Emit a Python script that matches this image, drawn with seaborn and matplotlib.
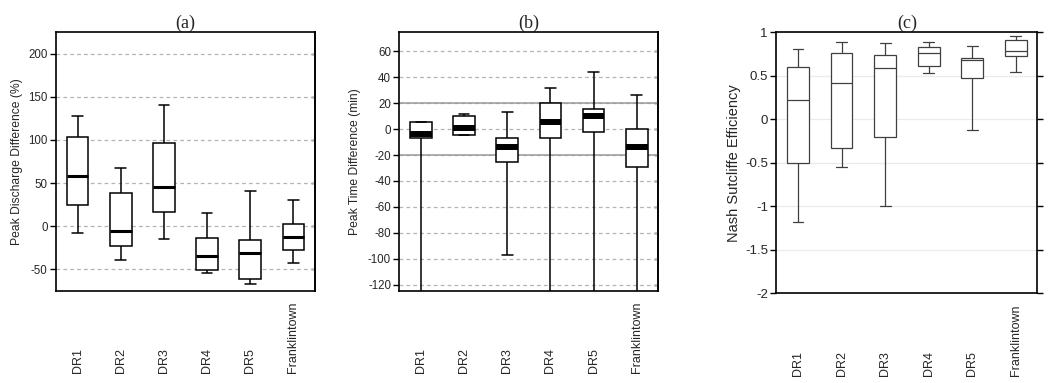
import matplotlib
matplotlib.use("Agg")
import matplotlib.pyplot as plt
import numpy as np
import pandas as pd
import seaborn as sns
from matplotlib.ticker import FuncFormatter

categories = ["DR1", "DR2", "DR3", "DR4", "DR5", "Franklintown"]

# (a) peak discharge difference (%)
discharge_min = [-8, -39, -15, -54, -67, -42]
discharge_q1 = [25, -23, 16.5, -51, -61, -27.5]
discharge_med = [58.5, -6, 45, -34, -31, -13]
discharge_q3 = [103, 39, 97, -14, -16, 3]
discharge_max = [128, 68, 140, 15, 41, 30]

# (b) peak time difference (min); lower whiskers run off the axis
time_min = [-150, -4.5, -97.5, -150, -150, -150]
time_q1 = [-6.5, -4.5, -25, -6.7, -2.3, -29]
time_med = [-4, 0.5, -14, 5.6, 10.5, -14]
time_q3 = [5.4, 10, -7, 20, 15.4, 0]
time_max = [5.4, 12, 13, 32, 44, 26.7]

# (c) Nash Sutcliffe efficiency
nse_min = [-1.18, -0.55, -1.0, 0.53, -0.12, 0.545]
nse_q1 = [-0.50, -0.33, -0.21, 0.61, 0.47, 0.72]
nse_med = [0.22, 0.42, 0.59, 0.755, 0.675, 0.785]
nse_q3 = [0.60, 0.755, 0.74, 0.83, 0.70, 0.91]
nse_max = [0.80, 0.88, 0.87, 0.88, 0.84, 0.96]


def summary_frame(mins, q1s, meds, q3s, maxs):
    rows = []
    for i, site in enumerate(categories):
        for v in (mins[i], q1s[i], meds[i], q3s[i], maxs[i]):
            rows.append({"site": site, "value": v})
    return pd.DataFrame(rows)


sns.set_theme(style="white")
plt.rcParams["font.family"] = ["Liberation Sans", "DejaVu Sans"]
plt.rcParams["axes.unicode_minus"] = False

fig = plt.figure(figsize=(10.49, 3.83), dpi=100)
ax_a = fig.add_axes([0.0534, 0.2402, 0.2469, 0.6762])
ax_b = fig.add_axes([0.3807, 0.2402, 0.2469, 0.6762])
ax_c = fig.add_axes([0.7400, 0.2342, 0.2490, 0.6822])

fmt = FuncFormatter(lambda v, _: f"{v:g}")


def draw_panel(ax, df, title, ylabel, ylim, yticks, line_color, lw,
               median_lw, label_x, label_size, tick_size):
    ax.set_axisbelow(True)
    sns.boxplot(
        data=df, x="site", y="value", ax=ax,
        whis=(0, 100), width=0.5, color="white", saturation=1,
        linecolor=line_color, linewidth=lw, showfliers=False,
        medianprops=dict(linewidth=median_lw, color=line_color),
        zorder=3,
    )
    ax.set_xlim(-0.5, len(categories) - 0.5)
    ax.set_ylim(*ylim)
    ax.set_yticks(yticks)
    ax.yaxis.set_major_formatter(fmt)
    ax.set_xticks([])
    ax.set_xlabel("")
    ax.set_ylabel(ylabel, fontsize=label_size)
    ax.yaxis.set_label_coords(label_x, 0.5)
    ax.tick_params(axis="y", left=True, direction="out", length=4,
                   width=1, labelsize=tick_size, pad=2, color="black")
    for s in ax.spines.values():
        s.set_visible(True)
        s.set_color("black")
        s.set_linewidth(1.2)
        s.set_zorder(5)
    ax.set_title(title, family=["Liberation Serif"], fontsize=13, pad=3)
    for i, site in enumerate(categories):
        ax.text(i, -0.317, site, transform=ax.get_xaxis_transform(),
                rotation=90, ha="center", va="bottom", fontsize=9)


draw_panel(ax_a, summary_frame(discharge_min, discharge_q1, discharge_med,
                               discharge_q3, discharge_max),
           "(a)", "Peak Discharge Difference (%)", (-75, 225),
           [-50, 0, 50, 100, 150, 200], "black", 1.1, 2.2, -0.128, 8.7, 8.3)
ax_a.yaxis.grid(True, linestyle=(0, (3, 2.5)), color="#b4b4b4",
                linewidth=0.9)

draw_panel(ax_b, summary_frame(time_min, time_q1, time_med, time_q3, time_max),
           "(b)", "Peak Time Difference (min)", (-125, 75),
           list(range(-120, 61, 20)), "black", 1.1, 4.3, -0.15, 8.7, 8.3)
ax_b.yaxis.grid(True, linestyle=(0, (3, 2.5)), color="#b4b4b4",
                linewidth=0.9)
for level in (-20, 20):
    ax_b.axhline(level, color="#999999", linewidth=1.1, zorder=1)

for ax, ticks in ((ax_a, [-50, 0, 50, 100, 150, 200]),
                  (ax_b, list(range(-120, 61, 20)))):
    sec = ax.secondary_yaxis("right")
    sec.set_yticks(ticks)
    sec.tick_params(direction="in", length=3, width=1, labelright=False,
                    color="black")
    sec.spines["right"].set_linewidth(1.2)
    sec.spines["right"].set_color("black")

draw_panel(ax_c, summary_frame(nse_min, nse_q1, nse_med, nse_q3, nse_max),
           "(c)", "Nash Sutcliffe Efficiency", (-2, 1),
           [-2, -1.5, -1, -0.5, 0, 0.5, 1], "#404040", 0.9, 0.9, -0.135,
           10.5, 9.5)
ax_c.yaxis.grid(True, linestyle="-", color="#ebebeb", linewidth=0.9)
ax_c.tick_params(axis="y", right=True, direction="out", length=4)

fig.savefig("out.png", dpi=100)
